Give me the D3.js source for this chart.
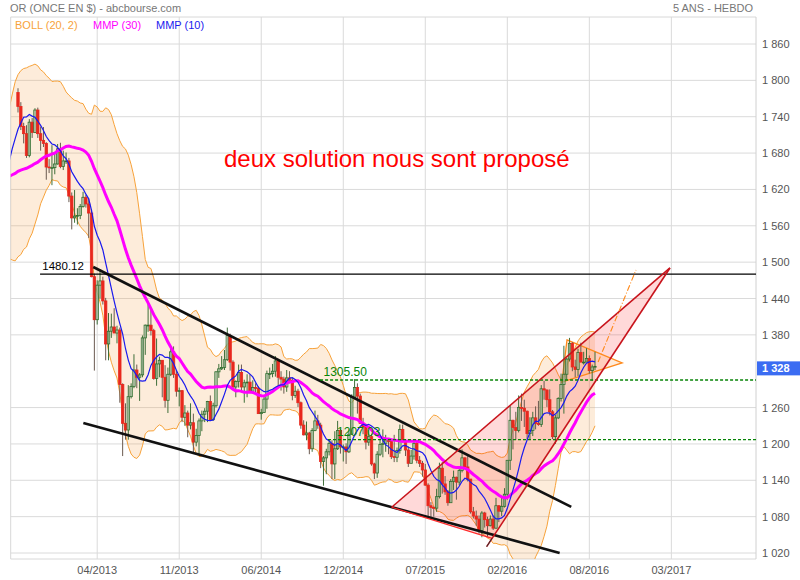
<!DOCTYPE html>
<html><head><meta charset="utf-8">
<script src="https://cdn.jsdelivr.net/npm/d3@7"></script>
<style>body{margin:0;background:#fff;} svg{display:block;font-family:"Liberation Sans",Arial,Helvetica,sans-serif;}</style>
</head><body><svg id="c" width="800" height="580"></svg>
<script>
// ---------- DATA ----------
const firstWeek = "2012-10-08";   // Monday of the first weekly bar
const lastWeek = "2016-09-05";
// weekly closes before the first visible bar (used by the indicators)
const warmupCloses = [1771,1710,1711,1656,1662,1668,1631,1659,1642,1663,1644,1580,1592,1572,1622,1590,1627,1572,1604,1579,1590,1583,1620,1604,1620,1616,1671,1692,1740,1771,1773,1772,1780];
const opens = [1780,1757,1724,1712,1676,1731,1714,1751,1712,1701,
1696,1657,1656,1656,1662,1687,1658,1667,1667,1609,
1573,1576,1577,1592,1607,1596,1581,1476,1405,1462,
1469,1436,1365,1386,1393,1383,1388,1298,1234,1223,
1278,1295,1322,1310,1314,1375,1396,1396,1387,1308,
1332,1338,1310,1272,1315,1352,1315,1287,1288,1244,
1251,1231,1235,1203,1214,1238,1249,1254,1270,1240,
1263,1319,1324,1326,1339,1379,1335,1294,1303,1318,
1294,1301,1302,1287,1293,1292,1250,1252,1274,1316,
1316,1320,1337,1310,1307,1294,1309,1305,1280,1287,
1268,1231,1215,1218,1192,1222,1238,1231,1171,1177,
1187,1201,1167,1192,1222,1195,1195,1187,1216,1277,
1293,1279,1234,1228,1203,1212,1167,1152,1183,1199,
1201,1207,1204,1179,1178,1189,1224,1205,1190,1168,
1180,1201,1173,1168,1157,1132,1098,1095,1094,1113,
1160,1134,1121,1103,1138,1145,1137,1156,1177,1162,
1142,1088,1081,1076,1057,1086,1075,1065,1076,1061,
1098,1089,1097,1117,1173,1239,1227,1222,1260,1259,
1254,1217,1222,1243,1234,1232,1291,1289,1273,1253,
1212,1243,1275,1298,1315,1340,1366,1327,1323,1351,
1335,1335,1341,1321,1327];
const highs = [1787,1764,1730,1726,1736,1738,1754,1755,1724,1723,
1698,1670,1693,1679,1695,1697,1684,1681,1672,1615,
1619,1589,1596,1616,1611,1605,1587,1481,1470,1488,
1476,1441,1416,1415,1424,1395,1392,1300,1267,1297,
1300,1348,1331,1317,1379,1397,1434,1423,1390,1374,
1344,1338,1330,1326,1361,1361,1322,1293,1289,1264,
1255,1267,1250,1225,1242,1255,1259,1271,1280,1268,
1320,1332,1345,1355,1392,1382,1338,1305,1331,1331,
1306,1315,1315,1305,1300,1295,1258,1278,1321,1326,
1332,1345,1338,1320,1311,1322,1320,1309,1296,1291,
1270,1239,1237,1220,1226,1255,1248,1235,1180,1192,
1207,1206,1221,1238,1225,1199,1201,1224,1282,1307,
1300,1283,1243,1233,1223,1217,1169,1188,1207,1224,
1215,1209,1205,1215,1194,1232,1232,1206,1196,1190,
1205,1204,1180,1172,1167,1135,1104,1097,1126,1169,
1170,1147,1124,1142,1156,1146,1160,1191,1178,1180,
1142,1096,1090,1082,1089,1088,1080,1082,1082,1111,
1099,1111,1127,1173,1263,1240,1253,1280,1283,1273,
1255,1244,1253,1262,1271,1297,1304,1290,1290,1256,
1248,1277,1316,1362,1342,1375,1368,1339,1357,1367,
1352,1358,1346,1331,1352];
const lows = [1747,1718,1696,1672,1673,1705,1713,1705,1684,1690,
1636,1647,1627,1645,1661,1655,1652,1662,1599,1554,
1565,1562,1571,1590,1590,1540,1475,1321,1397,1440,
1430,1338,1338,1375,1383,1366,1268,1180,1207,1207,
1275,1292,1292,1271,1310,1347,1385,1379,1306,1296,
1310,1277,1260,1251,1312,1309,1278,1262,1236,1230,
1211,1224,1186,1196,1182,1221,1236,1236,1238,1238,
1260,1309,1322,1322,1337,1321,1291,1277,1293,1285,
1268,1277,1285,1286,1284,1250,1240,1251,1258,1307,
1310,1311,1292,1288,1283,1286,1300,1272,1276,1261,
1225,1214,1206,1183,1187,1221,1225,1160,1131,1150,
1181,1142,1142,1190,1184,1171,1167,1185,1215,1276,
1250,1233,1216,1191,1197,1164,1142,1144,1180,1178,
1187,1183,1175,1170,1170,1184,1204,1180,1162,1168,
1174,1168,1162,1146,1131,1077,1077,1080,1088,1110,
1118,1116,1098,1103,1124,1108,1132,1153,1160,1138,
1085,1077,1065,1052,1046,1062,1046,1064,1058,1060,
1071,1081,1095,1108,1157,1191,1207,1219,1238,1228,
1208,1207,1213,1224,1230,1228,1273,1261,1247,1208,
1200,1241,1270,1250,1306,1336,1320,1310,1312,1335,
1331,1335,1316,1304,1322];
const closes = [1757,1724,1712,1676,1731,1714,1751,1712,1701,1696,
1657,1656,1656,1662,1687,1658,1667,1667,1609,1573,
1576,1577,1592,1607,1596,1581,1476,1405,1462,1469,
1436,1365,1386,1393,1383,1388,1298,1234,1223,1278,
1295,1322,1310,1314,1375,1396,1396,1387,1308,1332,
1338,1310,1272,1315,1352,1315,1287,1288,1244,1251,
1231,1235,1203,1214,1238,1249,1254,1270,1240,1263,
1319,1324,1326,1339,1379,1335,1294,1303,1318,1294,
1301,1302,1287,1293,1292,1250,1252,1274,1316,1316,
1320,1337,1310,1307,1294,1309,1305,1280,1287,1268,
1231,1215,1218,1192,1222,1238,1231,1171,1177,1187,
1201,1167,1192,1222,1195,1195,1187,1216,1277,1293,
1279,1234,1228,1203,1212,1167,1152,1183,1199,1201,
1207,1204,1179,1178,1189,1224,1205,1190,1168,1180,
1201,1173,1168,1157,1132,1098,1095,1094,1113,1160,
1134,1121,1103,1138,1145,1137,1156,1177,1162,1142,
1088,1081,1076,1057,1086,1075,1065,1076,1061,1098,
1089,1097,1117,1173,1239,1227,1222,1260,1259,1254,
1217,1222,1243,1234,1232,1291,1289,1273,1253,1212,
1243,1275,1298,1315,1340,1366,1327,1323,1351,1335,
1335,1341,1321,1327,1328];

const yTicks = [1020,1080,1140,1200,1260,1380,1440,1500,1560,1620,1680,1740,1800,1860];
const xTickDates = ["2013-04-22","2013-11-11","2014-06-02","2014-12-22","2015-07-13","2016-02-01","2016-08-22","2017-03-13"];
const lastPrice = 1328;

// user drawings, in (bar index, price)
const blackTrendLines = [
  [[26.6,1492],[195.6,1096]],
  [[23.1,1234.6],[191.5,1020]]
];
const levelLines = [
  {value:1480.12, from:7.8, label:"1480.12", labelAt:8.6, color:"#000", dash:null, size:11.5},
  {value:1305.50, from:106.8, label:"1305.50", labelAt:108.0, color:"#078407", dash:"3,2", size:12},
  {value:1207.03, from:109.6, label:"1207.03", labelAt:112.8, color:"#078407", dash:"3,2", size:12}
];
const redTriangle = [[132.1,1095.5],[167.6,1044.2],[230.5,1490.4]];
const redTriangleTail = [165.7,1030.5];
const orangeTriangle = [[194.1,1371.6],[213.6,1333.6],[192.3,1302.2]];
const orangeDashLine = [[205.1,1335.2],[218.5,1487.1]];

// ---------- CHART ----------
const svg = d3.select("#c");
const L = 10.7, R = 756, T = 17, B = 559;
const parse = d3.utcParse("%Y-%m-%d");
const nBars = closes.length;
const x = d3.scaleLinear().domain([0, nBars-1]).range([18, 595]);
const xTime = d3.scaleUtc().domain([parse(firstWeek), parse(lastWeek)]).range([18, 595]);
const y = d3.scaleLinear().domain([1020,1860]).range([553,44]);
const loc = d3.formatLocale({decimal:".", thousands:" ", grouping:[3], currency:["","$"]});
const fmt = loc.format(",d");

// indicators from the close series
const allCloses = warmupCloses.concat(closes);
const off = warmupCloses.length;
function sma(n, i){ const k=i+off; if(k-n+1<0) return null; return d3.mean(allCloses.slice(k-n+1,k+1)); }
function boll(i){ const k=i+off; if(k-19<0) return null; const w=allCloses.slice(k-19,k+1); const m=d3.mean(w); const sd=Math.sqrt(d3.mean(w,v=>(v-m)*(v-m))); return {i, m, up:m+2*sd, lo:m-2*sd}; }
const idx = d3.range(-3, nBars);
const bands = idx.map(boll).filter(d=>d);
const ma30 = idx.map(i=>({i, v:sma(30,i)})).filter(d=>d.v!=null);
const ma10 = idx.map(i=>({i, v:sma(10,i)})).filter(d=>d.v!=null);

// header
svg.append("text").attr("x",10).attr("y",12).attr("font-size",11).attr("fill","#777").text("OR (ONCE EN $) - abcbourse.com");
svg.append("text").attr("x",753).attr("y",12).attr("font-size",11).attr("fill","#777").attr("text-anchor","end").text("5 ANS - HEBDO");

// grid
const grid = svg.append("g");
grid.selectAll("line.h").data(yTicks).join("line")
  .attr("x1",L).attr("x2",R).attr("y1",d=>y(d)).attr("y2",d=>y(d))
  .attr("stroke","#dadada").attr("stroke-width",1);
grid.selectAll("line.v").data(xTickDates).join("line")
  .attr("x1",d=>xTime(parse(d))).attr("x2",d=>xTime(parse(d))).attr("y1",T).attr("y2",B)
  .attr("stroke","#dadada").attr("stroke-width",1);
// frame
svg.append("line").attr("x1",L).attr("x2",R).attr("y1",T).attr("y2",T).attr("stroke","#d8d8d8");
svg.append("line").attr("x1",L).attr("x2",R).attr("y1",B).attr("y2",B).attr("stroke","#d8d8d8");
svg.append("line").attr("x1",L).attr("x2",L).attr("y1",T).attr("y2",B).attr("stroke","#d8d8d8");
svg.append("line").attr("x1",R).attr("x2",R).attr("y1",T).attr("y2",B).attr("stroke","#d0d0d0");

// axes labels
svg.append("g").selectAll("text").data(yTicks).join("text")
  .attr("x",762).attr("y",d=>y(d)+4).attr("font-size",11).attr("fill","#555").text(d=>fmt(d));
svg.append("g").selectAll("text").data(xTickDates).join("text")
  .attr("x",d=>xTime(parse(d))).attr("y",574).attr("font-size",11).attr("fill","#555")
  .attr("text-anchor","middle").text(d=>d3.utcFormat("%m/%Y")(parse(d)));

svg.append("clipPath").attr("id","clip").append("rect").attr("x",L).attr("y",T).attr("width",R-L).attr("height",B-T);
const plot = svg.append("g").attr("clip-path","url(#clip)");

// bollinger band
plot.append("path").datum(bands)
  .attr("d", d3.area().x(d=>x(d.i)).y0(d=>y(d.lo)).y1(d=>y(d.up)))
  .attr("fill","rgba(247,160,70,0.2)");
["up","lo"].forEach(k=>{
  plot.append("path").datum(bands)
    .attr("d", d3.line().x(d=>x(d.i)).y(d=>y(d[k])))
    .attr("fill","none").attr("stroke","#f7a23a").attr("stroke-width",1);
});

// filled drawings
const P = p => [x(p[0]), y(p[1])];
plot.append("path").attr("d", d3.line()(redTriangle.map(P))+"Z")
  .attr("fill","rgba(255,0,0,0.15)").attr("stroke","none");
plot.append("path").attr("d", d3.line()(orangeTriangle.map(P))+"Z")
  .attr("fill","rgba(255,170,90,0.22)").attr("stroke","#ff8a1c").attr("stroke-width",1.3);

// candles
const bars = d3.range(nBars).map(i=>({i, o:opens[i], h:highs[i], l:lows[i], c:closes[i]}));
plot.append("g").selectAll("line").data(bars).join("line")
  .attr("x1",d=>x(d.i)).attr("x2",d=>x(d.i)).attr("y1",d=>y(d.h)).attr("y2",d=>y(d.l))
  .attr("stroke",d=>d.c>=d.o?"#3f6f3a":"#6a5a50").attr("stroke-width",1);
plot.append("g").selectAll("rect").data(bars).join("rect")
  .attr("x",d=>x(d.i)-1.2).attr("width",2.4)
  .attr("y",d=>y(Math.max(d.o,d.c))).attr("height",d=>Math.max(0.8,Math.abs(y(d.o)-y(d.c))))
  .attr("fill",d=>d.c>=d.o?"rgba(255,255,255,0.35)":"#e8281e")
  .attr("stroke",d=>d.c>=d.o?"#2f6e2f":"#e8281e").attr("stroke-width",0.8);

// moving averages
plot.append("path").datum(ma30).attr("d", d3.line().x(d=>x(d.i)).y(d=>y(d.v)))
  .attr("fill","none").attr("stroke","#ff00ff").attr("stroke-width",3);
plot.append("path").datum(ma10).attr("d", d3.line().x(d=>x(d.i)).y(d=>y(d.v)))
  .attr("fill","none").attr("stroke","#1a1aee").attr("stroke-width",1.2);

// drawn lines
plot.selectAll("line.trend").data(blackTrendLines).join("line")
  .attr("x1",d=>x(d[0][0])).attr("y1",d=>y(d[0][1])).attr("x2",d=>x(d[1][0])).attr("y2",d=>y(d[1][1]))
  .attr("stroke","#111").attr("stroke-width",2.6);
levelLines.forEach(l=>{
  plot.append("line").attr("x1",x(l.from)).attr("x2",R).attr("y1",y(l.value)).attr("y2",y(l.value))
    .attr("stroke",l.color).attr("stroke-width",1.3).attr("stroke-dasharray",l.dash);
  plot.append("text").attr("x",x(l.labelAt)).attr("y",y(l.value)-4).attr("font-size",l.size)
    .attr("fill",l.color).text(l.label);
});
// red triangle edges
const [a,b,c] = redTriangle.map(P);
plot.append("line").attr("x1",a[0]).attr("y1",a[1]).attr("x2",b[0]).attr("y2",b[1]).attr("stroke","#ff2a2a").attr("stroke-width",1.2);
plot.append("line").attr("x1",a[0]).attr("y1",a[1]).attr("x2",c[0]).attr("y2",c[1]).attr("stroke","#c8141c").attr("stroke-width",1.6);
const t = P(redTriangleTail);
plot.append("line").attr("x1",t[0]).attr("y1",t[1]).attr("x2",c[0]).attr("y2",c[1]).attr("stroke","#c8141c").attr("stroke-width",1.6);
plot.append("line").attr("x1",t[0]).attr("y1",t[1]).attr("x2",b[0]).attr("y2",b[1]).attr("stroke","#333").attr("stroke-width",1);
// orange dash-dot
plot.append("line").attr("x1",x(orangeDashLine[0][0])).attr("y1",y(orangeDashLine[0][1]))
  .attr("x2",x(orangeDashLine[1][0])).attr("y2",y(orangeDashLine[1][1]))
  .attr("stroke","#ff8a1c").attr("stroke-width",1.1).attr("stroke-dasharray","6,2,1,2");

// legend
const leg = [["BOLL (20, 2)","#f7a23a",15],["MMP (30)","#ff00ff",93],["MMP (10)","#1a1aee",156]];
svg.append("g").selectAll("text").data(leg).join("text")
  .attr("x",d=>d[2]).attr("y",29).attr("font-size",11).attr("fill",d=>d[1]).text(d=>d[0]);

// title annotation
svg.append("text").attr("x",224).attr("y",167).attr("font-size",24).attr("fill","#ff0000").text("deux solution nous sont proposé");

// current price box
svg.append("rect").attr("x",757).attr("y",y(lastPrice)-5).attr("width",43).attr("height",14).attr("fill","#3b6cf2");
svg.append("text").attr("x",762).attr("y",y(lastPrice)+6).attr("font-size",11).attr("font-weight","bold")
  .attr("fill","#fff").text(fmt(lastPrice));
</script></body></html>
